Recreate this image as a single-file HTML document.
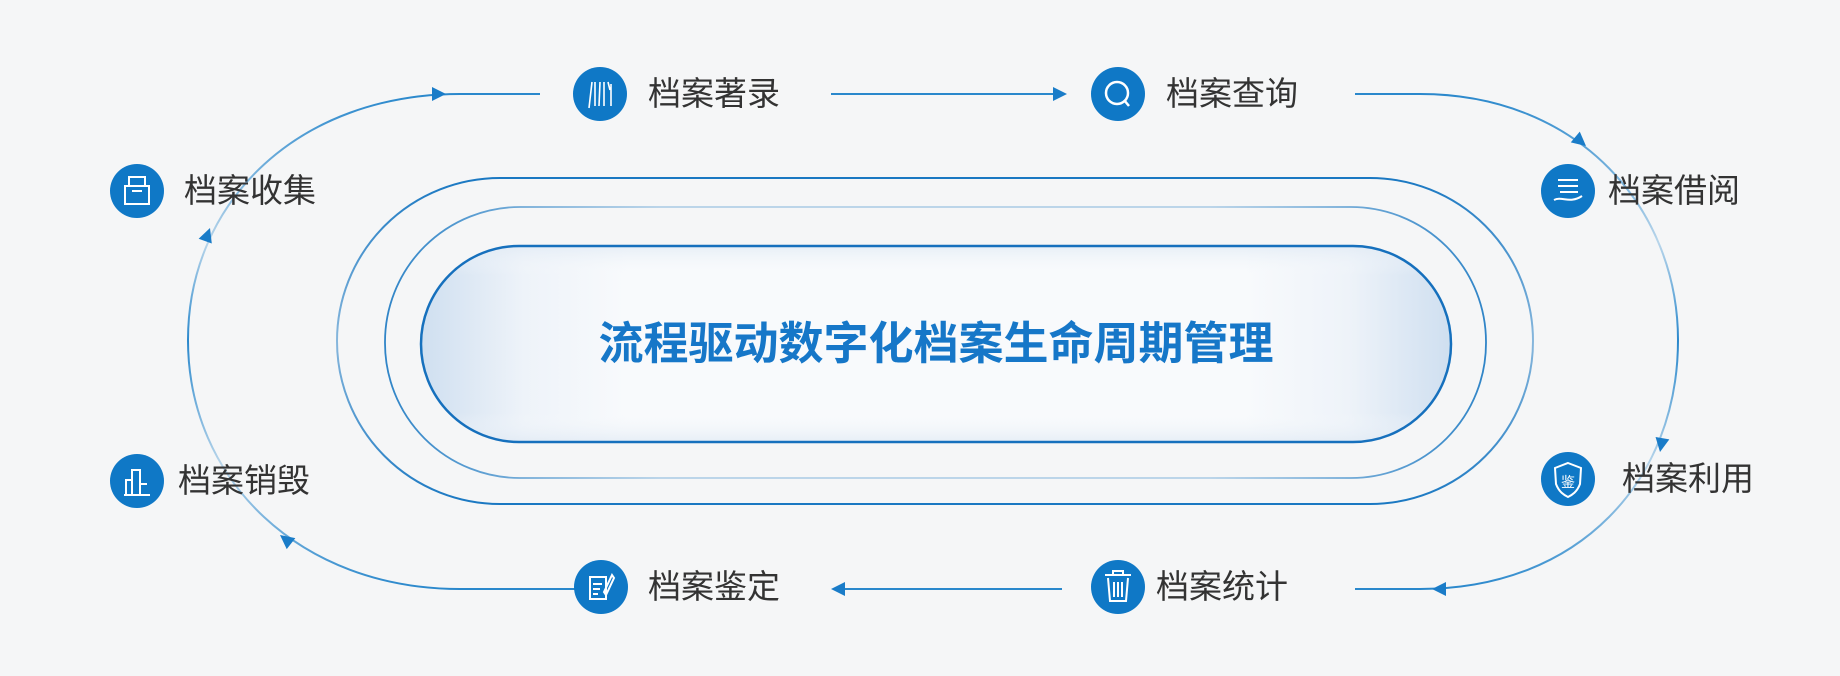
<!DOCTYPE html>
<html><head><meta charset="utf-8"><style>
html,body{margin:0;padding:0;background:#f5f6f7;}
svg{display:block;}
text{font-family:"Liberation Sans","Noto Sans CJK SC",sans-serif;}
</style></head><body>
<svg width="1840" height="676" viewBox="0 0 1840 676" xmlns="http://www.w3.org/2000/svg">
<defs>
<linearGradient id="fillg" x1="0" y1="0" x2="1" y2="0">
<stop offset="0" stop-color="#cfdff0"/>
<stop offset="0.1" stop-color="#eef3f9"/>
<stop offset="0.2" stop-color="#f8fafc"/>
<stop offset="0.8" stop-color="#f8fafc"/>
<stop offset="0.9" stop-color="#eef3f9"/>
<stop offset="1" stop-color="#cfdff0"/>
</linearGradient>
<linearGradient id="fillv" x1="0" y1="0" x2="0" y2="1">
<stop offset="0" stop-color="#dfe9f4" stop-opacity="0.7"/>
<stop offset="0.15" stop-color="#f8fafc" stop-opacity="0"/>
<stop offset="0.85" stop-color="#f8fafc" stop-opacity="0"/>
<stop offset="1" stop-color="#dfe9f4" stop-opacity="0.7"/>
</linearGradient>
<linearGradient id="midg" x1="0" y1="0" x2="1" y2="0">
<stop offset="0" stop-color="#1a78c2" stop-opacity="0.9"/>
<stop offset="0.25" stop-color="#1a78c2" stop-opacity="0.3"/>
<stop offset="0.75" stop-color="#1a78c2" stop-opacity="0.3"/>
<stop offset="1" stop-color="#1a78c2" stop-opacity="0.9"/>
</linearGradient>
<linearGradient id="outg" x1="0" y1="0" x2="0" y2="1">
<stop offset="0" stop-color="#1a78c2"/>
<stop offset="0.5" stop-color="#1a78c2" stop-opacity="0.5"/>
<stop offset="1" stop-color="#1a78c2"/>
</linearGradient>
<linearGradient id="lg" x1="0" y1="0" x2="0" y2="1">
<stop offset="0" stop-color="#2a88cc"/>
<stop offset="0.3" stop-color="#2a88cc" stop-opacity="0.3"/>
<stop offset="0.5" stop-color="#2a88cc"/>
<stop offset="0.75" stop-color="#2a88cc" stop-opacity="0.3"/>
<stop offset="1" stop-color="#2a88cc"/>
</linearGradient>
</defs>

<rect x="337" y="178" width="1196" height="326" rx="163" fill="none" stroke="url(#outg)" stroke-width="2"/>
<rect x="385" y="207" width="1101" height="271" rx="135" fill="none" stroke="url(#midg)" stroke-width="1.8"/>
<rect x="421" y="246" width="1030" height="196" rx="98" fill="url(#fillg)"/>
<rect x="421" y="246" width="1030" height="196" rx="98" fill="url(#fillv)" stroke="#1670bd" stroke-width="2.5"/>
<text x="936" y="359" text-anchor="middle" font-size="45" font-weight="bold" fill="#1677c8">流程驱动数字化档案生命周期管理</text>

<path d="M575 589 L460 589 C300 589 188 480 188 340 C188 200 300 94 460 94 L540 94" fill="none" stroke="url(#lg)" stroke-width="2"/>
<path d="M1355 94 L1420 94 C1580 94 1678 210 1678 340 C1678 480 1580 589 1420 589 L1355 589" fill="none" stroke="url(#lg)" stroke-width="2"/>
<line x1="831" y1="94" x2="1060" y2="94" stroke="#2a88cc" stroke-width="2"/>
<line x1="1062" y1="589" x2="835" y2="589" stroke="#2a88cc" stroke-width="2"/>

<g fill="#1a7cc8">
<polygon points="0,0 -14,-7 -14,7" transform="translate(446,94)"/>
<polygon points="0,0 -14,-7 -14,7" transform="translate(1067,94)"/>
<polygon points="0,0 -14,-7 -14,7" transform="translate(1586,146) rotate(40)"/>
<polygon points="0,0 -14,-7 -14,7" transform="translate(1660,452) rotate(100)"/>
<polygon points="0,0 -14,-7 -14,7" transform="translate(1432,589) rotate(180)"/>
<polygon points="0,0 -14,-7 -14,7" transform="translate(831,589) rotate(180)"/>
<polygon points="0,0 -14,-7 -14,7" transform="translate(280,535) rotate(218)"/>
<polygon points="0,0 -14,-7 -14,7" transform="translate(210,228) rotate(290)"/>
</g>

<g font-size="33" fill="#333">
<circle cx="600" cy="94" r="27" fill="#0f78c6"/>
<g stroke="#fff" stroke-width="1.6" fill="none"><path d="M589 108 L592 82 M595 82 L595 106 M600 82 L599 106 M604 82 L604 106 M608 82 L610 90 M611 84 L611 106"/></g>
<text x="648" y="105">档案著录</text>

<circle cx="1118" cy="94" r="27" fill="#0f78c6"/>
<circle cx="1117" cy="93" r="11" fill="none" stroke="#fff" stroke-width="2.5"/>
<line x1="1124" y1="100" x2="1129" y2="106" stroke="#fff" stroke-width="2.5"/>
<text x="1166" y="105">档案查询</text>

<circle cx="1568" cy="191" r="27" fill="#0f78c6"/>
<g stroke="#fff" stroke-width="2" fill="none"><path d="M1558 180 H1578 M1558 186 H1578 M1560 192 H1578 M1554 200 C1562 196 1570 204 1582 196"/></g>
<text x="1608" y="202">档案借阅</text>

<circle cx="1568" cy="479" r="27" fill="#0f78c6"/>
<path d="M1568 463 L1581 468 L1580 484 C1577 492 1572 495 1568 497 C1564 495 1559 492 1556 484 L1555 468 Z" fill="none" stroke="#fff" stroke-width="2"/>
<text x="1568" y="487" font-size="14" fill="#fff" text-anchor="middle">鉴</text>
<text x="1622" y="490">档案利用</text>

<circle cx="1118" cy="587" r="27" fill="#0f78c6"/>
<g stroke="#fff" stroke-width="2" fill="none"><path d="M1105 575 H1131 M1113 575 V571 H1123 V575 M1108 578 L1110 601 H1126 L1128 578 M1114 582 V597 M1118 582 V597 M1122 582 V597"/></g>
<text x="1156" y="598">档案统计</text>

<circle cx="601" cy="587" r="27" fill="#0f78c6"/>
<g stroke="#fff" stroke-width="2" fill="none"><path d="M590 577 H606 V599 H590 Z M593 584 H602 M593 589 H600 M593 594 H598 M612 575 L604 592 L606 595 L614 578 Z"/></g>
<text x="648" y="598">档案鉴定</text>

<circle cx="137" cy="481" r="27" fill="#0f78c6"/>
<g stroke="#fff" stroke-width="2" fill="none"><path d="M126 495 V480 H132 V495 M132 495 V470 H140 V495 M140 484 H147 M124 495 H150"/></g>
<text x="178" y="492">档案销毁</text>

<circle cx="137" cy="191" r="27" fill="#0f78c6"/>
<g stroke="#fff" stroke-width="2" fill="none"><path d="M129 177 H145 V186 H129 Z M125 186 H149 V204 H125 Z M132 191 H142"/></g>
<text x="184" y="202">档案收集</text>
</g>
</svg>
</body></html>
